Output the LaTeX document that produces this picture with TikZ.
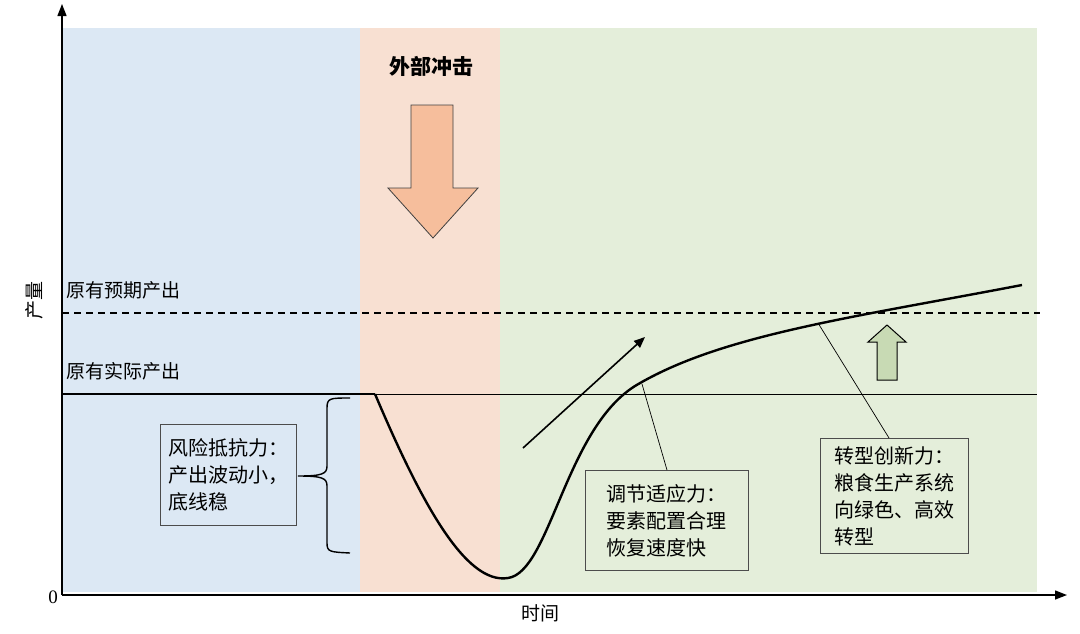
\documentclass[tikz,border=0pt]{standalone}
\usepackage{fontspec}
\newfontfamily\cjk{Noto Sans CJK SC}
\setmainfont{Liberation Serif}
\usetikzlibrary{arrows.meta}
\begin{document}
\begin{tikzpicture}[x=1pt,y=-1pt,
  lbl/.style={font=\cjk\fontsize{19}{24}\selectfont,inner sep=0pt},
  box/.style={draw=black!70,line width=0.8pt,align=left,font=\cjk\fontsize{20}{27}\selectfont,inner sep=5pt,anchor=north west},
  leader/.style={line width=0.7pt}]
\useasboundingbox (0,0) rectangle (1080,633);
\fill[white] (0,0) rectangle (1080,633);
\fill[fill={rgb,255:red,220;green,232;blue,244}] (62,28) rectangle (360,592);
\fill[fill={rgb,255:red,248;green,224;blue,210}] (360,28) rectangle (500,592);
\fill[fill={rgb,255:red,228;green,238;blue,218}] (500,28) rectangle (1037,592);
% axes
\coordinate (o) at (62,595);
\coordinate (ytop) at (62,4);
\coordinate (xend) at (1067,595);
\draw[line width=1.4pt,-{Triangle[length=12pt,width=9pt]}] (o) -- (ytop);
\draw[line width=1.4pt,-{Triangle[length=12pt,width=9pt]}] (o) -- (xend);
\node[font=\fontsize{19}{20}\selectfont] (zero) at (53,597) {0};
\node[lbl,rotate=90] (ylab) at (34,300) {产量};
\node[lbl] (xlab) at (540,613) {时间};
% title and shock arrow
\node[font=\cjk\bfseries\fontsize{21}{24}\selectfont] (title) at (431,66) {外部冲击};
\draw[black!75,line width=0.8pt,fill={rgb,255:red,246;green,190;blue,156}]
  (411,105) -- (453,105) -- (453,188) -- (478,188) -- (433,238) -- (388,188) -- (411,188) -- cycle;
% reference lines
\draw[dashed,line width=1.3pt,dash pattern=on 7pt off 5pt] (62,313) -- (1040,313);
\node[lbl,anchor=west] (exp) at (66,290) {原有预期产出};
\node[lbl,anchor=west] (act) at (66,371) {原有实际产出};
\draw[line width=1pt] (62,394) -- (1037,394);
\draw[line width=2.4pt] (62,394) -- (375,394);
% curve
\draw[line width=2.4pt] (375,394) .. controls (420,500) and (465,585) .. (508,578)
  .. controls (550,572) and (565,430) .. (635,386)
  .. controls (720,335) and (850,318) .. (1022,285);
% trend arrow
\coordinate (ta) at (523,448);
\coordinate (tb) at (645,337);
\draw[line width=1.6pt,-{Triangle[length=11pt,width=9pt]}] (ta) -- (tb);
% brace
\draw[line width=1.4pt] (350,398) .. controls (330,398) and (327,398) .. (327,408) -- (327,466)
  .. controls (327,474) and (322,476) .. (298,476) .. controls (322,476) and (327,478) .. (327,486)
  -- (327,543) .. controls (327,552) and (330,552) .. (350,553);
% boxes
\node[box,minimum width=136pt,minimum height=101pt] (b1) at (160,424) {风险抵抗力：\\产出波动小，\\底线稳};
\node[box,minimum width=163pt,minimum height=100pt] (b2) at (585,470) {调节适应力：\\要素配置合理\\恢复速度快};
\node[box,minimum width=148pt,minimum height=115pt] (b3) at (820,438) {转型创新力：\\粮食生产系统\\向绿色、高效\\转型};
\coordinate (p2) at (642,384);
\coordinate (p3) at (818,323);
\draw[leader] (p2) -- (b2.north west -| 667,470);
\draw[leader] (p3) -- (889,438);
% green up arrow
\draw[black,line width=1pt,fill={rgb,255:red,200;green,218;blue,180}]
  (877,380) -- (897,380) -- (897,342) -- (906,342) -- (887,325) -- (868,342) -- (877,342) -- cycle;
\end{tikzpicture}
\end{document}
